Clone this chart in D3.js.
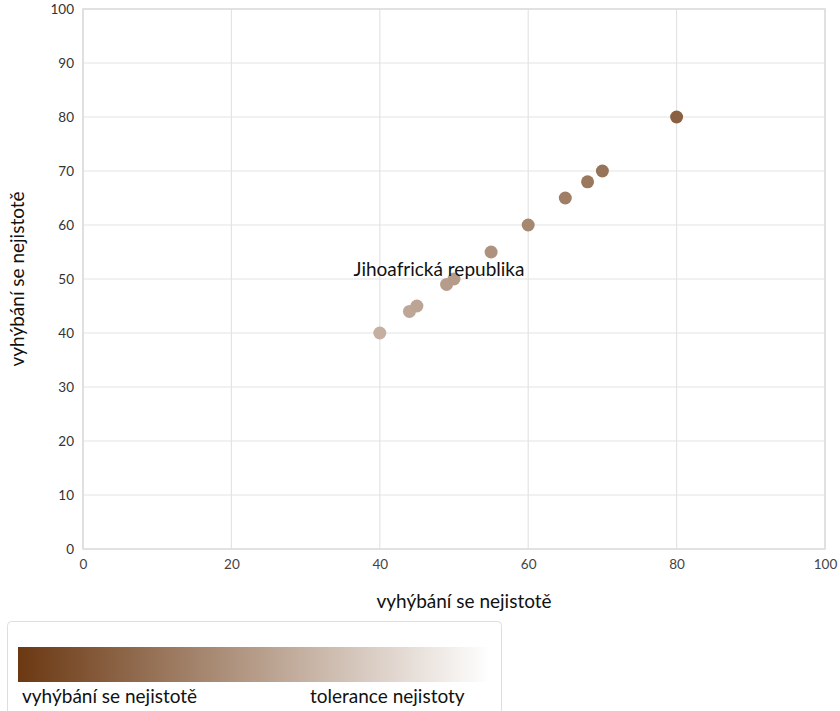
<!DOCTYPE html>
<html><head><meta charset="utf-8">
<script src="https://cdn.jsdelivr.net/npm/d3@7"></script>
<style>
body{margin:0;background:#fff;}
svg{display:block;font-family:Lato,"Open Sans",sans-serif;}
</style></head>
<body>
<svg id="chart" width="840" height="711"></svg>
<script>
const xValues = [40, 44, 45, 49, 50, 55, 60, 65, 68, 70, 80];
const yValues = [40, 44, 45, 49, 50, 55, 60, 65, 68, 70, 80];
const pointLabels = ["", "", "", "", "Jihoafrická republika", "", "", "", "", "", ""];
const xTicks = [0, 20, 40, 60, 80, 100];
const yTicks = [0, 10, 20, 30, 40, 50, 60, 70, 80, 90, 100];
const axisTitleX = "vyhýbání se nejistotě";
const axisTitleY = "vyhýbání se nejistotě";
const legendLabels = ["vyhýbání se nejistotě", "tolerance nejistoty"];
const colorStops = ["#6b3812", "#ffffff"];

const svg = d3.select("#chart");
const m = {left: 83, right: 825, top: 9, bottom: 549};
const x = d3.scaleLinear().domain([0, 100]).range([m.left, m.right]);
const y = d3.scaleLinear().domain([0, 100]).range([m.bottom, m.top]);
const color = d3.scaleLinear().domain([100, 0]).range(colorStops).interpolate(d3.interpolateRgb);

// grid
svg.append("g").selectAll("line").data(yTicks).join("line")
  .attr("x1", m.left).attr("x2", m.right)
  .attr("y1", d => y(d)).attr("y2", d => y(d))
  .attr("stroke", "#e4e4e4").attr("stroke-width", 1.2);
svg.append("g").selectAll("line").data(xTicks).join("line")
  .attr("y1", m.top).attr("y2", m.bottom)
  .attr("x1", d => x(d)).attr("x2", d => x(d))
  .attr("stroke", "#e4e4e4").attr("stroke-width", 1.2);
svg.append("rect").attr("x", m.left).attr("y", m.top)
  .attr("width", m.right - m.left).attr("height", m.bottom - m.top)
  .attr("fill", "none").attr("stroke", "#dcdcdc").attr("stroke-width", 1.5);

// axes
const yAxis = svg.append("g").attr("transform", `translate(${m.left},0)`)
  .call(d3.axisLeft(y).tickValues(yTicks).tickSize(0).tickPadding(9));
yAxis.select(".domain").remove();
yAxis.selectAll("text").attr("font-size", 13.5).attr("fill", "#333")
  .attr("font-family", "Lato, sans-serif");
const xAxis = svg.append("g").attr("transform", `translate(0,${m.bottom})`)
  .call(d3.axisBottom(x).tickValues(xTicks).tickSize(0).tickPadding(10));
xAxis.select(".domain").remove();
xAxis.selectAll("text").attr("font-size", 13.5).attr("fill", "#444")
  .attr("font-family", "Lato, sans-serif");

svg.append("text").attr("x", 464).attr("y", 608)
  .attr("text-anchor", "middle").attr("font-size", 19).attr("fill", "#111")
  .text(axisTitleX);
svg.append("text").attr("transform", `translate(24,${(m.top + m.bottom) / 2}) rotate(-90)`)
  .attr("text-anchor", "middle").attr("font-size", 19).attr("fill", "#111")
  .text(axisTitleY);

// points
const pts = xValues.map((v, i) => ({x: v, y: yValues[i], label: pointLabels[i]}));
svg.append("g").selectAll("circle").data(pts).join("circle")
  .attr("cx", d => x(d.x)).attr("cy", d => y(d.y)).attr("r", 6.5)
  .attr("fill", d => color(d.x));
svg.append("g").selectAll("text").data(pts.filter(d => d.label)).join("text")
  .attr("x", d => x(d.x) - 15).attr("y", d => y(d.y) - 3)
  .attr("text-anchor", "middle").attr("font-size", 19).attr("fill", "#111")
  .text(d => d.label);

// legend
const defs = svg.append("defs");
const grad = defs.append("linearGradient").attr("id", "lg");
grad.selectAll("stop").data(colorStops).join("stop")
  .attr("offset", (d, i) => i * 100 + "%").attr("stop-color", d => d);
svg.append("rect").attr("x", 7.5).attr("y", 621.5).attr("width", 494).attr("height", 100)
  .attr("rx", 4).attr("fill", "#fff").attr("stroke", "#dedede");
svg.append("rect").attr("x", 18).attr("y", 647).attr("width", 472).attr("height", 35)
  .attr("fill", "url(#lg)");
svg.append("text").attr("x", 22).attr("y", 703).attr("font-size", 19).attr("fill", "#111")
  .text(legendLabels[0]);
svg.append("text").attr("x", 310).attr("y", 703).attr("font-size", 19).attr("fill", "#111")
  .text(legendLabels[1]);
</script>
</body></html>
